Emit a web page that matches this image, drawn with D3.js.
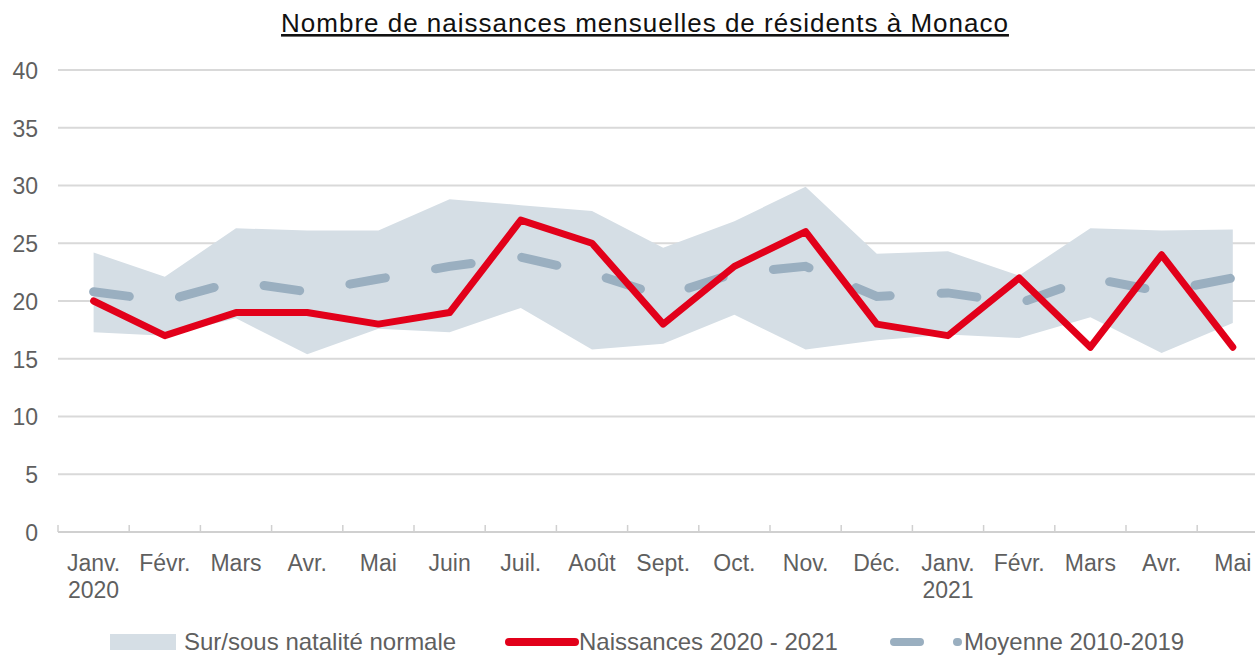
<!DOCTYPE html>
<head>
  <meta charset="utf-8">
  <script src="https://d3js.org/d3.v7.min.js"></script>
  <style>
    body { margin:0; background:#fff; }
    text { font-family: "Liberation Sans", Arial, sans-serif; }
  </style>
</head>

<body>
  <script>
    var width = 1255;
    var height = 655;

    // data
    var months = ["Janv.", "Févr.", "Mars", "Avr.", "Mai", "Juin", "Juil.", "Août", "Sept.",
                  "Oct.", "Nov.", "Déc.", "Janv.", "Févr.", "Mars", "Avr.", "Mai"];
    var years = ["2020", "", "", "", "", "", "", "", "", "", "", "", "2021", "", "", "", ""];
    var naissances = [20, 17, 19, 19, 18, 19, 27, 25, 18, 23, 26, 18, 17, 22, 16, 24, 16];
    var moyenne = [20.8, 20.0, 21.7, 20.8, 21.9, 23.0, 23.8, 22.4, 20.4, 22.4, 23.0, 20.4, 20.7, 19.8, 22.0, 20.8, 22.0];
    var bandHaut = [24.2, 22.1, 26.3, 26.1, 26.1, 28.8, 28.3, 27.8, 24.6, 26.9, 29.9, 24.1, 24.3, 22.2, 26.3, 26.1, 26.2];
    var bandBas = [17.3, 17.0, 18.5, 15.4, 17.6, 17.3, 19.4, 15.8, 16.3, 18.8, 15.8, 16.6, 17.1, 16.8, 18.6, 15.5, 18.1];
    var yTicks = [0, 5, 10, 15, 20, 25, 30, 35, 40];

    var svg = d3.select("body")
      .append("svg")
      .attr("width", width)
      .attr("height", height);

    var idx = d3.range(months.length);
    var step = 71.2;

    var x = d3.scaleBand()
      .domain(idx)
      .range([58, 58 + step * months.length]);

    var y = d3.scaleLinear()
      .domain([0, 40])
      .range([532, 70]);

    function cx(i) { return x(i) + x.bandwidth() / 2; }

    // title
    svg.append("text")
      .attr("x", 645)
      .attr("y", 32)
      .attr("text-anchor", "middle")
      .style("font-size", "26px")
      .style("letter-spacing", "1px")
      .style("fill", "#111")
      .style("text-decoration", "underline")
      .text("Nombre de naissances mensuelles de résidents à Monaco");

    // grid
    svg.selectAll(".grid")
      .data(yTicks.filter(function(d) { return d > 0; }))
      .enter()
      .append("line")
      .attr("x1", 58)
      .attr("x2", width)
      .attr("y1", function(d) { return y(d); })
      .attr("y2", function(d) { return y(d); })
      .style("stroke", "#d9d9d9")
      .style("stroke-width", 2);

    // y labels
    var yAxis = svg.append("g")
      .attr("transform", "translate(38,0)")
      .call(d3.axisLeft(y).tickValues(yTicks).tickSize(0).tickPadding(0));
    yAxis.select(".domain").remove();
    yAxis.selectAll("text")
      .style("font-size", "23px")
      .style("fill", "#5f5f5f")
      .attr("dy", "0.36em");

    // x axis
    svg.append("line")
      .attr("x1", 58).attr("x2", width)
      .attr("y1", y(0)).attr("y2", y(0))
      .style("stroke", "#d0d0d0")
      .style("stroke-width", 2);

    svg.selectAll(".xtick")
      .data(idx)
      .enter()
      .append("line")
      .attr("x1", function(d) { return x(d); })
      .attr("x2", function(d) { return x(d); })
      .attr("y1", y(0))
      .attr("y2", y(0) - 7)
      .style("stroke", "#d0d0d0")
      .style("stroke-width", 1.5);

    var xl = svg.selectAll(".xlab")
      .data(idx)
      .enter()
      .append("text")
      .attr("text-anchor", "middle")
      .style("font-size", "23px")
      .style("fill", "#5f5f5f");
    xl.append("tspan")
      .attr("x", function(d) { return cx(d); })
      .attr("y", 571)
      .text(function(d) { return months[d]; });
    xl.append("tspan")
      .attr("x", function(d) { return cx(d); })
      .attr("y", 598)
      .text(function(d) { return years[d]; });

    // band
    var area = d3.area()
      .x(function(d) { return cx(d); })
      .y0(function(d) { return y(bandBas[d]); })
      .y1(function(d) { return y(bandHaut[d]); });

    svg.append("path")
      .datum(idx)
      .attr("d", area)
      .style("fill", "#d5dee5");

    var line = function(arr) {
      return d3.line()
        .x(function(d) { return cx(d); })
        .y(function(d) { return y(arr[d]); });
    };

    svg.append("path")
      .datum(idx)
      .attr("d", line(moyenne))
      .style("fill", "none")
      .style("stroke", "#9aafc0")
      .style("stroke-width", 9)
      .style("stroke-linecap", "round")
      .style("stroke-dasharray", "36 51");

    svg.append("path")
      .datum(idx)
      .attr("d", line(naissances))
      .style("fill", "none")
      .style("stroke", "#e2001a")
      .style("stroke-width", 7)
      .style("stroke-linejoin", "round")
      .style("stroke-linecap", "round");

    // legend
    var lg = svg.append("g");
    lg.append("rect")
      .attr("x", 110).attr("y", 634).attr("width", 66).attr("height", 16)
      .style("fill", "#d5dee5");
    lg.append("text")
      .attr("x", 184).attr("y", 650)
      .style("font-size", "24px").style("fill", "#5f5f5f")
      .text("Sur/sous natalité normale");

    lg.append("line")
      .attr("x1", 509).attr("x2", 575).attr("y1", 642).attr("y2", 642)
      .style("stroke", "#e2001a").style("stroke-width", 8)
      .style("stroke-linecap", "round");
    lg.append("text")
      .attr("x", 579).attr("y", 650)
      .style("font-size", "24px").style("fill", "#5f5f5f")
      .text("Naissances 2020 - 2021");

    lg.append("line")
      .attr("x1", 894).attr("x2", 958).attr("y1", 642).attr("y2", 642)
      .style("stroke", "#9aafc0").style("stroke-width", 8)
      .style("stroke-linecap", "round")
      .style("stroke-dasharray", "26 37");
    lg.append("text")
      .attr("x", 964).attr("y", 650)
      .style("font-size", "24px").style("fill", "#5f5f5f")
      .text("Moyenne 2010-2019");
  </script>
</body>
